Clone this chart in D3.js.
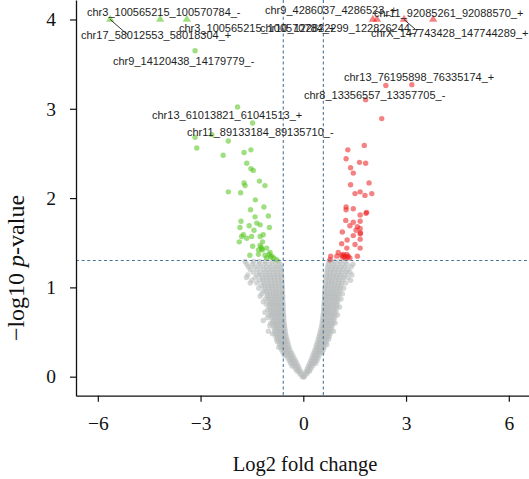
<!DOCTYPE html>
<html>
<head>
<meta charset="utf-8">
<script src="https://cdn.jsdelivr.net/npm/d3@7"></script>
<style>
  html, body { margin: 0; padding: 0; background: #ffffff; }
  svg { display: block; }
</style>
</head>
<body>
<svg id="chart" width="529" height="479"></svg>
<script>
// ---- data: [log2 fold change, -log10 p-value] ----

// significantly down-regulated genes (green)
const downGenes = [
  [-3.16, 3.65], [-1.92, 3.02], [-1.48, 2.84],
  [-3.16, 2.68], [-2.67, 2.71], [-2.19, 2.64], [-3.11, 2.56], [-2.34, 2.48],
  [-1.73, 2.51], [-1.53, 2.54], [-1.65, 2.39], [-1.53, 2.33], [-1.46, 2.31],
  [-1.28, 2.19], [-1.73, 2.17], [-1.70, 2.14], [-1.12, 2.14], [-2.19, 2.07],
  [-1.83, 2.06], [-1.40, 1.98], [-1.54, 1.87], [-1.15, 1.90], [-1.02, 1.80],
  [-1.82, 1.74], [-1.41, 1.79], [-1.36, 1.72], [-1.26, 1.70], [-1.85, 1.67],
  [-1.58, 1.69], [-1.44, 1.64], [-0.99, 1.67], [-1.75, 1.59], [-1.51, 1.57],
  [-1.17, 1.59], [-1.80, 1.57], [-1.87, 1.51], [-1.26, 1.57], [-1.65, 1.55],
  [-1.19, 1.51], [-1.26, 1.47], [-1.48, 1.46], [-1.07, 1.44], [-1.31, 1.42],
  [-1.21, 1.43], [-0.97, 1.39], [-1.56, 1.36], [-1.31, 1.37], [-1.12, 1.36],
  [-0.92, 1.35], [-0.86, 1.33], [-0.78, 1.31], [-1.07, 1.33], [-1.23, 1.45],
  [-1.20, 1.42], [-1.00, 1.37], [-0.95, 1.34]
];

// significantly up-regulated genes (red)
const upGenes = [
  [2.41, 3.26], [3.17, 3.27], [1.82, 3.10], [2.29, 2.89],
  [1.78, 2.59], [1.30, 2.54], [1.25, 2.44], [1.64, 2.40], [1.82, 2.39],
  [1.38, 2.34], [1.46, 2.28], [1.92, 2.17], [1.38, 2.15], [1.66, 2.07],
  [1.51, 2.05], [1.80, 2.03], [2.00, 2.05], [1.25, 1.90], [1.46, 1.88],
  [1.25, 1.87], [1.83, 1.83], [1.85, 1.84], [1.66, 1.81], [1.24, 1.75],
  [1.46, 1.73], [1.66, 1.74], [1.36, 1.69], [1.58, 1.68], [1.66, 1.66],
  [1.54, 1.64], [1.14, 1.62], [1.66, 1.60], [1.67, 1.61], [1.46, 1.58],
  [1.28, 1.53], [1.66, 1.54], [1.51, 1.48], [1.66, 1.44], [1.12, 1.49],
  [1.27, 1.44], [1.02, 1.39], [1.17, 1.37], [1.31, 1.35], [1.27, 1.37],
  [1.58, 1.35], [1.12, 1.36], [0.98, 1.35], [0.80, 1.35], [1.36, 1.33],
  [1.22, 1.33], [0.78, 1.31], [1.15, 1.34], [1.20, 1.35], [1.29, 1.34]
];

// genes whose -log10 p-value lies beyond the axis, shown at the cap
const pCap = 4;
const cappedDown = [-5.64, -4.18, -3.40];
const cappedUp = [2.03, 2.15, 2.94, 3.79];

// non-significant genes, one row per -log10 p level: [p, log2FC, log2FC, ...]
const nsRows = [
  [0.00, 0.00, -0.03, 0.03],
  [0.03, -0.05, -0.10, 0.05, 0.10],
  [0.06, -0.08, -0.13, -0.18, 0.08, 0.13, 0.18],
  [0.09, -0.12, -0.17, -0.23, 0.12, 0.17, 0.22],
  [0.12, -0.15, -0.21, -0.27, -0.33, 0.15, 0.21, 0.27],
  [0.15, -0.19, -0.25, -0.31, -0.37, 0.19, 0.25, 0.31, 0.36],
  [0.18, -0.23, -0.29, -0.35, -0.41, 0.22, 0.28, 0.34, 0.40],
  [0.21, -0.27, -0.33, -0.39, -0.45, 0.25, 0.31, 0.37, 0.43],
  [0.24, -0.31, -0.37, -0.43, -0.49, -0.55, 0.28, 0.34, 0.40, 0.46],
  [0.27, -0.35, -0.41, -0.47, -0.53, -0.59, 0.31, 0.37, 0.43, 0.49, 0.55],
  [0.30, -0.39, -0.45, -0.51, -0.57, -0.63, 0.34, 0.40, 0.46, 0.52, 0.58],
  [0.33, -0.42, -0.48, -0.54, -0.60, -0.66, -0.72, 0.37, 0.43, 0.49, 0.55, 0.61],
  [0.36, -0.44, -0.50, -0.56, -0.62, -0.68, 0.39, 0.45, 0.51, 0.57, 0.63, 0.69],
  [0.39, -0.46, -0.52, -0.58, -0.64, -0.70, -0.76, 0.42, 0.48, 0.54, 0.60, 0.66],
  [0.42, -0.48, -0.54, -0.60, -0.66, -0.72, -0.78, 0.44, 0.50, 0.56, 0.62, 0.68, 0.74],
  [0.45, -0.50, -0.56, -0.62, -0.68, -0.74, -0.80, 0.46, 0.52, 0.58, 0.64, 0.70, 0.76],
  [0.48, -0.52, -0.58, -0.64, -0.70, -0.76, -0.82, -0.90, 0.48, 0.54, 0.60, 0.66, 0.72, 0.78],
  [0.51, -0.53, -0.59, -0.65, -0.71, -0.77, -0.84, -1.02, 0.50, 0.56, 0.62, 0.68, 0.74, 0.80, 0.88],
  [0.54, -0.54, -0.60, -0.66, -0.72, -0.78, -0.85, 0.52, 0.58, 0.64, 0.70, 0.76, 0.82],
  [0.57, -0.55, -0.61, -0.67, -0.73, -0.80, -0.87, -0.98, 0.54, 0.60, 0.66, 0.72, 0.78, 0.84],
  [0.60, -0.56, -0.62, -0.68, -0.74, -0.81, -0.88, -0.95, 0.55, 0.61, 0.67, 0.73, 0.79, 0.86, 0.93],
  [0.63, -0.57, -0.63, -0.69, -0.75, -0.82, -0.89, -1.17, 0.56, 0.62, 0.68, 0.75, 0.82, 0.89],
  [0.66, -0.57, -0.64, -0.71, -0.78, -0.85, -0.92, -1.05, 0.57, 0.63, 0.70, 0.77, 0.84, 0.91],
  [0.69, -0.58, -0.65, -0.72, -0.79, -0.86, -0.93, -1.00, 0.58, 0.64, 0.71, 0.78, 0.85, 0.92, 1.00],
  [0.72, -0.58, -0.65, -0.72, -0.79, -0.87, -0.95, -1.12, 0.59, 0.65, 0.72, 0.79, 0.86, 0.94],
  [0.75, -0.59, -0.66, -0.73, -0.80, -0.88, -0.96, -1.04, 0.60, 0.66, 0.73, 0.80, 0.88, 0.96],
  [0.78, -0.59, -0.66, -0.74, -0.82, -0.90, -0.98, 0.60, 0.67, 0.74, 0.81, 0.89, 0.97, 1.06],
  [0.81, -0.59, -0.67, -0.75, -0.83, -0.91, -0.99, -1.08, 0.61, 0.68, 0.75, 0.82, 0.90, 0.98],
  [0.84, -0.60, -0.68, -0.76, -0.84, -0.92, -1.00, -1.17, 0.61, 0.68, 0.76, 0.84, 0.92, 1.00],
  [0.87, -0.60, -0.68, -0.76, -0.84, -0.93, -1.02, -1.10, 0.62, 0.69, 0.77, 0.85, 0.93, 1.01, 1.10],
  [0.90, -0.60, -0.69, -0.78, -0.87, -0.96, -1.05, -1.26, 0.62, 0.70, 0.78, 0.86, 0.94, 1.03],
  [0.93, -0.61, -0.70, -0.79, -0.88, -0.97, -1.06, -1.21, 0.63, 0.71, 0.79, 0.87, 0.95, 1.04, 1.14],
  [0.96, -0.61, -0.70, -0.79, -0.88, -0.98, -1.08, -1.16, 0.63, 0.71, 0.80, 0.88, 0.97, 1.06],
  [0.99, -0.61, -0.71, -0.81, -0.91, -1.01, -1.12, -1.30, 0.64, 0.72, 0.81, 0.90, 0.99, 1.08, 1.18],
  [1.02, -0.62, -0.72, -0.82, -0.92, -1.02, -1.13, -1.22, 0.65, 0.73, 0.82, 0.91, 1.00, 1.10],
  [1.05, -0.62, -0.72, -0.82, -0.92, -1.03, -1.15, -1.36, -1.55, 0.65, 0.74, 0.83, 0.92, 1.02, 1.12, 1.24],
  [1.08, -0.63, -0.73, -0.84, -0.95, -1.06, -1.18, -1.28, -1.50, 0.66, 0.75, 0.84, 0.94, 1.04, 1.15, 1.38],
  [1.11, -0.63, -0.74, -0.85, -0.96, -1.08, -1.20, -1.40, -1.66, 0.67, 0.76, 0.86, 0.96, 1.06, 1.18, 1.30],
  [1.14, -0.64, -0.75, -0.86, -0.98, -1.10, -1.24, -1.34, -1.62, 0.68, 0.78, 0.88, 0.98, 1.09, 1.22, 1.42],
  [1.17, -0.64, -0.76, -0.88, -1.00, -1.13, -1.28, -1.46, 0.69, 0.79, 0.90, 1.01, 1.12, 1.26, 1.36],
  [1.20, -0.65, -0.77, -0.90, -1.03, -1.17, -1.35, -1.55, 0.70, 0.81, 0.92, 1.04, 1.16, 1.30],
  [1.23, -0.66, -0.79, -0.93, -1.08, -1.25, -1.42, -1.60, 0.71, 0.83, 0.95, 1.08, 1.21, 1.40],
  [1.26, -0.68, -0.82, -0.98, -1.14, -1.30, -1.48, -1.65, 0.73, 0.86, 1.00, 1.14, 1.28, 1.45],
  [1.29, -0.72, -0.90, -1.10, -1.28, -1.45, -1.70, 0.75, 0.90, 1.06, 1.22]
];

// significance thresholds
const fcCut = [-0.585, 0.585];
const pCut = 1.301;

// axis ticks
const xTicks = [-6, -3, 0, 3, 6];
const yTicks = [0, 1, 2, 3, 4];

// labelled genes
const geneNames = [
  "chr3_100565215_100570784_-",
  "chr17_58012553_58018304_+",
  "chr3_100565215_100570784_+",
  "chr10_122822299_122826244_-",
  "chr9_14120438_14179779_-",
  "chr9_4286037_4286523_+",
  "chr11_92085261_92088570_+",
  "chrX_147743428_147744289_+",
  "chr13_61013821_61041513_+",
  "chr11_89133184_89135710_-",
  "chr8_13356557_13357705_-",
  "chr13_76195898_76335174_+"
];

// ---- layout ----
const labelPos = [
  [87, 16], [81, 38.5], [179, 32], [260, 32], [113, 65], [265, 14],
  [374, 17], [371, 37], [152, 119], [187, 136], [304, 99], [344, 81]
];
// leader segments: start at a capped point, end at its label
const leaders = [
  { lfc: cappedDown[0], end: [128, 35] },
  { lfc: cappedUp[2], end: [415, 29] }
];

const svg = d3.select("#chart");
const W = 529, H = 479;
const left = 76, bottom = 395.7;

const x = d3.scaleLinear().domain([-6.637, 6.59]).range([left, W]);
const y = d3.scaleLinear().domain([-0.2128, 4.218]).range([bottom, 0]);

const R = 2.7;
const grey = "#b9bcbc", green = "#52c41a", red = "#ec1b1b";

// non-significant points
const nsPoints = [];
nsRows.forEach(row => row.slice(1).forEach(v => nsPoints.push([v, row[0]])));

const gPts = svg.append("g");
gPts.selectAll("circle.ns").data(nsPoints).join("circle")
  .attr("class", "ns")
  .attr("cx", d => x(d[0])).attr("cy", d => y(d[1])).attr("r", R)
  .attr("fill", grey).attr("fill-opacity", 0.6);

gPts.selectAll("circle.down").data(downGenes).join("circle")
  .attr("class", "down")
  .attr("cx", d => x(d[0])).attr("cy", d => y(d[1])).attr("r", R)
  .attr("fill", green).attr("fill-opacity", 0.55);

gPts.selectAll("circle.up").data(upGenes).join("circle")
  .attr("class", "up")
  .attr("cx", d => x(d[0])).attr("cy", d => y(d[1])).attr("r", R)
  .attr("fill", red).attr("fill-opacity", 0.55);

const tri = d3.symbol().type(d3.symbolTriangle).size(30);
gPts.selectAll("path.capD").data(cappedDown).join("path")
  .attr("class", "capD")
  .attr("transform", d => `translate(${x(d)},${y(pCap)})`)
  .attr("d", tri).attr("fill", green).attr("fill-opacity", 0.55);
gPts.selectAll("path.capU").data(cappedUp).join("path")
  .attr("class", "capU")
  .attr("transform", d => `translate(${x(d)},${y(pCap)})`)
  .attr("d", tri).attr("fill", red).attr("fill-opacity", 0.55);

// threshold lines
const dash = "3,2.6", dashColor = "#4d7797";
svg.append("g").selectAll("line.v").data(fcCut).join("line")
  .attr("x1", d => x(d)).attr("x2", d => x(d))
  .attr("y1", 0).attr("y2", bottom)
  .attr("stroke", dashColor).attr("stroke-width", 1.1)
  .attr("stroke-dasharray", dash);
svg.append("line")
  .attr("x1", left).attr("x2", W)
  .attr("y1", y(pCut)).attr("y2", y(pCut))
  .attr("stroke", dashColor).attr("stroke-width", 1.1)
  .attr("stroke-dasharray", dash);

// gene labels and leader segments
svg.append("g").selectAll("line").data(leaders).join("line")
  .attr("x1", d => x(d.lfc)).attr("y1", y(pCap))
  .attr("x2", d => d.end[0]).attr("y2", d => d.end[1])
  .attr("stroke", "#222").attr("stroke-width", 0.9);

svg.append("g").selectAll("text").data(geneNames).join("text")
  .attr("x", (d, i) => labelPos[i][0])
  .attr("y", (d, i) => labelPos[i][1])
  .attr("font-family", "'Liberation Sans', Arial, sans-serif")
  .attr("font-size", 11)
  .attr("fill", "#1e1e1e")
  .text(d => d);

// axes
const serif = "'Liberation Serif', 'Times New Roman', serif";
const yAxis = svg.append("g").attr("transform", `translate(${left},0)`)
  .call(d3.axisLeft(y).tickValues(yTicks).tickSize(6).tickSizeOuter(0).tickPadding(14).tickFormat(d3.format("d")));
const xAxis = svg.append("g").attr("transform", `translate(0,${bottom})`)
  .call(d3.axisBottom(x).tickValues(xTicks).tickSize(6).tickSizeOuter(0).tickFormat(d3.format("d")));

[yAxis, xAxis].forEach(a => {
  a.select(".domain").attr("stroke", "#111").attr("stroke-width", 1.3);
  a.selectAll(".tick line").attr("stroke", "#111").attr("stroke-width", 1.2);
  a.selectAll(".tick text").attr("font-family", serif).attr("font-size", 19.5).attr("fill", "#111");
});
xAxis.selectAll(".tick text").attr("y", 34.3).attr("dy", 0);

svg.append("text")
  .attr("x", 305).attr("y", 470.7)
  .attr("text-anchor", "middle")
  .attr("font-family", serif).attr("font-size", 20.5).attr("fill", "#111")
  .text("Log2 fold change");

const yTitle = svg.append("text")
  .attr("transform", "translate(24,268) rotate(-90)")
  .attr("text-anchor", "middle")
  .attr("font-family", serif).attr("font-size", 24).attr("fill", "#111");
yTitle.append("tspan").text("\u2212log10 ");
yTitle.append("tspan").attr("font-style", "italic").text("p");
yTitle.append("tspan").text("-value");
</script>
</body>
</html>
